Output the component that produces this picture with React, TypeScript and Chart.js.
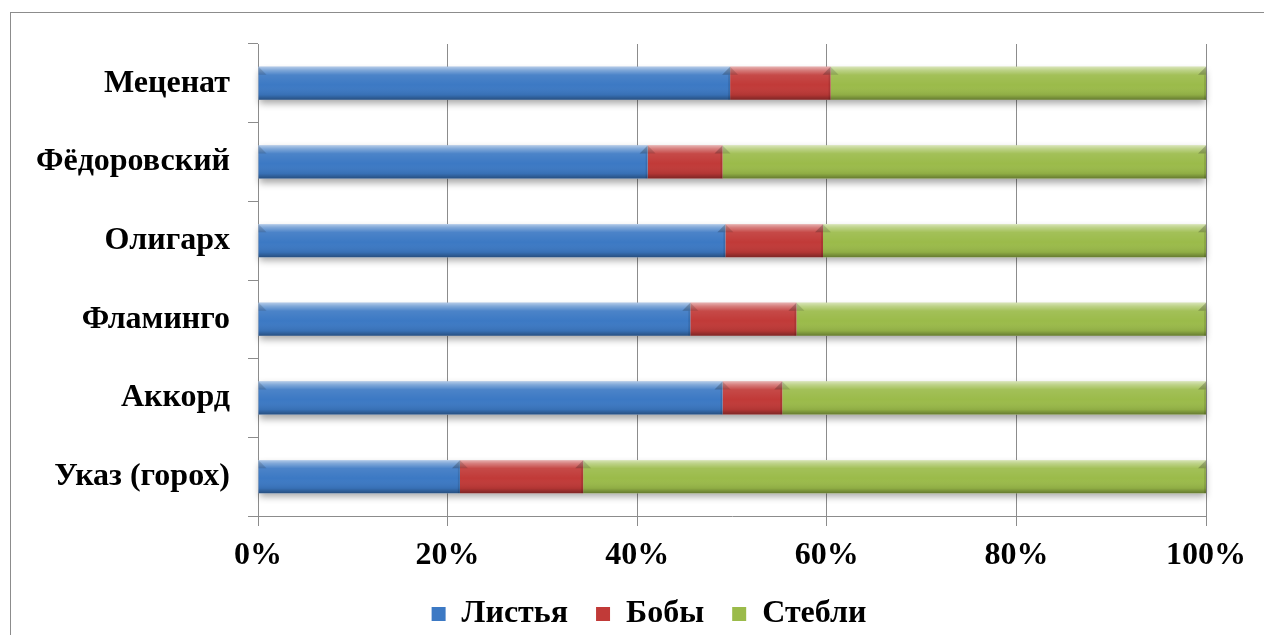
import React, { useEffect, useRef } from 'react';
import { Chart, registerables } from 'chart.js';

Chart.register(...registerables);

const categories = ['Меценат', 'Фёдоровский', 'Олигарх', 'Фламинго', 'Аккорд', 'Указ (горох)'];
const seriesNames = ['Листья', 'Бобы', 'Стебли'];
const leaves = [49.8, 41.1, 49.3, 45.6, 49.0, 21.3];
const beans = [10.6, 7.9, 10.3, 11.2, 6.3, 13.0];
const stems = [39.6, 51.0, 40.4, 43.2, 44.7, 65.7];
const xTickValues = [0, 20, 40, 60, 80, 100];
const seriesColors = ['#3C79C4', '#C13A38', '#9BBB4A'];

const FONT = '"Liberation Serif", "Times New Roman", serif';

const shadowPlugin = {
  id: 'barShadow',
  beforeDatasetsDraw(chart: any) {
    const ctx = chart.ctx;
    const first = chart.getDatasetMeta(0);
    const last = chart.getDatasetMeta(chart.data.datasets.length - 1);
    ctx.save();
    ctx.shadowColor = 'rgba(0,0,0,0.35)';
    ctx.shadowBlur = 7;
    ctx.shadowOffsetY = 4;
    ctx.fillStyle = '#ffffff';
    first.data.forEach((el: any, i: number) => {
      const a = el.getProps(['y', 'base', 'height'], true);
      const b = last.data[i].getProps(['x'], true);
      ctx.fillRect(a.base, a.y - a.height / 2, b.x - a.base, a.height);
    });
    ctx.restore();
  },
};

const bevelPlugin = {
  id: 'barBevel',
  afterDatasetsDraw(chart: any) {
    const ctx = chart.ctx;
    chart.data.datasets.forEach((_: any, di: number) => {
      const meta = chart.getDatasetMeta(di);
      meta.data.forEach((el: any) => {
        const p = el.getProps(['x', 'y', 'base', 'height'], true);
        const left = Math.min(p.x, p.base);
        const right = Math.max(p.x, p.base);
        const w = right - left;
        const top = p.y - p.height / 2;
        const h = p.height;
        const g = ctx.createLinearGradient(0, top, 0, top + h);
        g.addColorStop(0, 'rgba(255,255,255,0.6)');
        g.addColorStop(0.1, 'rgba(255,255,255,0.35)');
        g.addColorStop(0.25, 'rgba(255,255,255,0.08)');
        g.addColorStop(0.55, 'rgba(255,255,255,0)');
        g.addColorStop(0.85, 'rgba(0,0,0,0.08)');
        g.addColorStop(1, 'rgba(0,0,0,0.35)');
        ctx.save();
        ctx.fillStyle = g;
        ctx.fillRect(left, top, w, h);
        const bw = Math.min(8, w / 2);
        // top-left bevel cut
        ctx.beginPath();
        ctx.moveTo(left, top);
        ctx.lineTo(left + bw, top + bw);
        ctx.lineTo(left, top + bw);
        ctx.closePath();
        ctx.fillStyle = 'rgba(0,0,0,0.14)';
        ctx.fill();
        // top-right bevel cut (darker)
        ctx.beginPath();
        ctx.moveTo(right, top);
        ctx.lineTo(right - bw, top + bw);
        ctx.lineTo(right, top + bw);
        ctx.closePath();
        ctx.fillStyle = 'rgba(0,0,0,0.22)';
        ctx.fill();
        // right edge slightly darker
        ctx.fillStyle = 'rgba(0,0,0,0.1)';
        ctx.fillRect(right - 2, top + bw, 2, h - bw);
        ctx.restore();
      });
    });
  },
};

const legendShiftPlugin = {
  id: 'legendShift',
  afterLayout(chart: any) {
    const lg = chart.legend;
    if (lg) {
      lg.left += 46;
      lg.right += 46;
    }
  },
};

export default function App() {
  const ref = useRef<HTMLCanvasElement>(null);

  useEffect(() => {
    const font = { family: FONT, size: 32, weight: 'bold' as const };
    const chart = new Chart(ref.current as HTMLCanvasElement, {
      type: 'bar',
      data: {
        labels: categories,
        datasets: [
          { label: seriesNames[0], data: leaves, backgroundColor: seriesColors[0] },
          { label: seriesNames[1], data: beans, backgroundColor: seriesColors[1] },
          { label: seriesNames[2], data: stems, backgroundColor: seriesColors[2] },
        ],
      },
      options: {
        indexAxis: 'y',
        animation: false,
        responsive: true,
        maintainAspectRatio: false,
        layout: { padding: { left: 0, right: 58, top: 44, bottom: 0 } },
        datasets: { bar: { categoryPercentage: 1, barPercentage: 0.42, borderWidth: 0 } },
        scales: {
          x: {
            stacked: true,
            min: 0,
            max: 100,
            afterBuildTicks: (s: any) => {
              s.ticks = xTickValues.map((v) => ({ value: v }));
            },
            ticks: {
              callback: (v: any) => v + '%',
              font,
              color: '#000',
              padding: 11,
              maxRotation: 0,
              autoSkip: false,
            },
            grid: { color: '#8c8c8c', tickLength: 10, lineWidth: 1 },
            border: { color: '#8c8c8c' },
            afterFit: (s: any) => {
              s.height = 54;
            },
          },
          y: {
            stacked: true,
            ticks: { font, color: '#000', padding: 18 },
            grid: { drawOnChartArea: false, tickLength: 10, color: '#8c8c8c', offset: true },
            border: { color: '#8c8c8c' },
            afterFit: (s: any) => {
              s.width = 258;
            },
          },
        },
        plugins: {
          legend: {
            position: 'bottom',
            maxHeight: 65,
            labels: { boxWidth: 14, boxHeight: 14, padding: 28, font, color: '#000' },
          },
          tooltip: { enabled: false },
        },
      } as any,
      plugins: [shadowPlugin, bevelPlugin, legendShiftPlugin],
    });
    return () => chart.destroy();
  }, []);

  return (
    <>
      <div
        style={{
          position: 'fixed',
          left: 10,
          top: 12,
          width: 1400,
          height: 800,
          borderLeft: '1px solid #8c8c8c',
          borderTop: '1px solid #8c8c8c',
          boxSizing: 'border-box',
        }}
      />
      <div style={{ position: 'fixed', left: 0, top: 0, width: 1264, height: 635 }}>
        <canvas ref={ref} />
      </div>
    </>
  );
}
